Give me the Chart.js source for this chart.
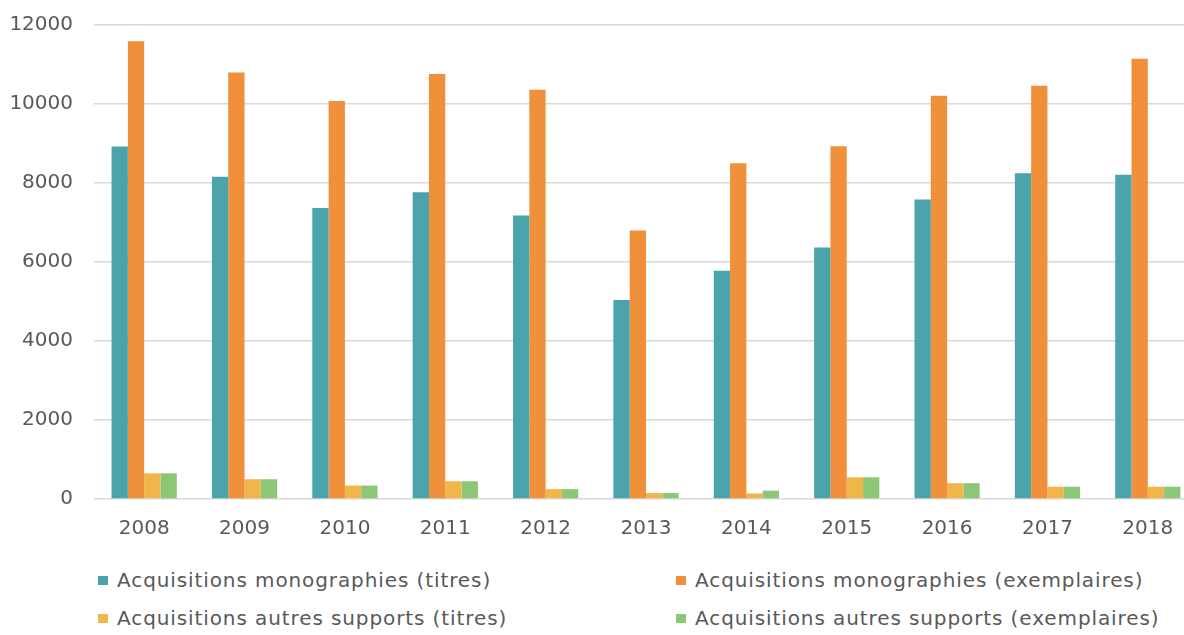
<!DOCTYPE html>
<html lang="fr">
<head>
<meta charset="UTF-8" />
<title>Acquisitions 2008-2018</title>
<style>
  body {
    margin: 0;
    background: #fff;
    overflow: hidden;
    font-family: 'DejaVu Sans', sans-serif;
    color: #595959;
  }
  .chart-box {
    position: absolute;
    left: 0;
    top: -8px;
    width: 1198px;
    height: 556px;
  }
  .legend-item {
    position: absolute;
    font-size: 20px;
    letter-spacing: 0.9px;
    line-height: 24px;
    white-space: nowrap;
    color: #595959;
  }
  .legend-item span {
    position: absolute;
    left: -19px;
    top: 8px;
    width: 10px;
    height: 9px;
  }
</style>
</head>
<body>

<div class="chart-box"><canvas id="chart"></canvas></div>
<div id="legend"></div>

<script src="https://cdn.jsdelivr.net/npm/chart.js"></script>
<script>
  const years = ["2008", "2009", "2010", "2011", "2012", "2013", "2014", "2015", "2016", "2017", "2018"];
  const monoTitres = [8925, 8160, 7370, 7765, 7177, 5040, 5780, 6370, 7580, 8250, 8210];
  const monoExemplaires = [11590, 10800, 10076, 10757, 10360, 6800, 8497, 8930, 10212, 10464, 11145];
  const autresTitres = [650, 500, 340, 450, 250, 150, 140, 550, 400, 310, 310];
  const autresExemplaires = [650, 500, 340, 450, 250, 150, 210, 550, 400, 310, 310];

  const series = [
    { label: "Acquisitions monographies (titres)", data: monoTitres, color: "#4ba3ac" },
    { label: "Acquisitions monographies (exemplaires)", data: monoExemplaires, color: "#f0903a" },
    { label: "Acquisitions autres supports (titres)", data: autresTitres, color: "#f0b64a" },
    { label: "Acquisitions autres supports (exemplaires)", data: autresExemplaires, color: "#8cc677" },
  ];

  const tickFont = { family: "'DejaVu Sans', sans-serif", size: 20 };

  new Chart(document.getElementById("chart"), {
    type: "bar",
    data: {
      labels: years,
      datasets: series.map((s) => ({
        label: s.label,
        data: s.data,
        backgroundColor: s.color,
        borderWidth: 0,
        categoryPercentage: 0.65,
        barPercentage: 1.0,
      })),
    },
    options: {
      responsive: true,
      maintainAspectRatio: false,
      animation: false,
      layout: { padding: { top: 16, left: 0, right: 0, bottom: 0 } },
      plugins: {
        legend: { display: false },
        tooltip: { enabled: false },
      },
      scales: {
        x: {
          grid: { display: false, drawTicks: false },
          border: { display: false },
          ticks: { color: "#595959", font: tickFont, padding: 18, maxRotation: 0 },
          afterFit: (scale) => { scale.height = 49; },
        },
        y: {
          min: 0,
          max: 12000,
          grid: { color: "#d9d9d9", lineWidth: 1.5, drawTicks: false },
          border: { display: false },
          ticks: {
            color: "#595959",
            font: tickFont,
            padding: 21,
            stepSize: 2000,
            callback: (v) => String(v),
          },
          afterFit: (scale) => { scale.width = 94; },
        },
      },
    },
  });

  // legend in two columns, like the original
  const legendPos = [
    { left: 117, top: 568 },
    { left: 695, top: 568 },
    { left: 117, top: 606 },
    { left: 695, top: 606 },
  ];
  const legendEl = document.getElementById("legend");
  series.forEach((s, i) => {
    const item = document.createElement("div");
    item.className = "legend-item";
    item.style.left = legendPos[i].left + "px";
    item.style.top = legendPos[i].top + "px";
    item.innerHTML = `<span style="background:${s.color}"></span>${s.label}`;
    legendEl.appendChild(item);
  });
</script>
</body>
</html>
